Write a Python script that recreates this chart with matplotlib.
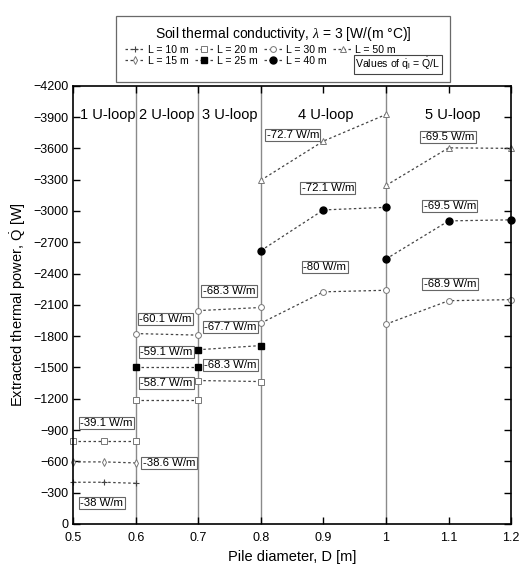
import matplotlib
matplotlib.use("Agg")
import matplotlib.pyplot as plt
from matplotlib.lines import Line2D

plt.rcParams['font.family'] = ['Liberation Sans', 'DejaVu Sans']
plt.rcParams['mathtext.fontset'] = 'custom'
plt.rcParams['mathtext.rm'] = 'Liberation Sans'
plt.rcParams['mathtext.it'] = 'Liberation Serif:italic'

# pile diameters per U-loop group
x_1u = [0.5, 0.55, 0.6]
x_2u = [0.6, 0.7]
x_3u = [0.7, 0.8]
x_4u = [0.8, 0.9, 1.0]
x_5u = [1.0, 1.1, 1.2]

# extracted power [W]
q_L10_1u = [-400, -400, -390]
q_L15_1u = [-595, -595, -585]
q_L20_1u = [-800, -800, -800]
q_L20_2u = [-1190, -1190]
q_L20_3u = [-1375, -1365]
q_L25_2u = [-1500, -1500]
q_L25_3u = [-1670, -1710]
q_L30_2u = [-1825, -1810]
q_L30_3u = [-2045, -2075]
q_L30_4u = [-1925, -2225, -2240]
q_L30_5u = [-1915, -2140, -2150]
q_L40_4u = [-2620, -3010, -3035]
q_L40_5u = [-2540, -2905, -2915]
q_L50_4u = [-3295, -3670, -3925]
q_L50_5u = [-3245, -3605, -3600]

# q = Q/L labels (text, x, y)
q_labels = ["-38 W/m", "-38.6 W/m", "-39.1 W/m", "-58.7 W/m", "-59.1 W/m", "-60.1 W/m",
            "-68.3 W/m", "-67.7 W/m", "-68.3 W/m", "-72.7 W/m", "-72.1 W/m", "-80 W/m",
            "-69.5 W/m", "-69.5 W/m", "-68.9 W/m"]
q_label_x = [0.546, 0.653, 0.553, 0.649, 0.649, 0.647,
             0.751, 0.751, 0.749, 0.851, 0.907, 0.902,
             1.099, 1.102, 1.102]
q_label_y = [-200, -585, -968, -1350, -1648, -1964,
             -1524, -1888, -2233, -3728, -3220, -2463,
             -3709, -3048, -2300]

loop_names = ["1 U-loop", "2 U-loop", "3 U-loop", "4 U-loop", "5 U-loop"]
loop_x = [0.556, 0.65, 0.75, 0.904, 1.107]
loop_sep = [0.6, 0.7, 0.8, 1.0]

fig = plt.figure(figsize=(5.19, 5.68), dpi=100)
ax = fig.add_axes([0.141, 0.0775, 0.844, 0.7715])

for xs in loop_sep:
    ax.axvline(xs, color='#8a8a8a', lw=1.0, zorder=1)

ls = dict(ls=(0, (2, 2)), color='#444444', lw=0.9, zorder=2)
gray = '#777777'
styles = {
    'L10': dict(marker='+', ms=5, mec='#444444', mew=0.8),
    'L15': dict(marker='d', ms=4, mfc='white', mec=gray, mew=0.7),
    'L20': dict(marker='s', ms=4.2, mfc='white', mec=gray, mew=0.7),
    'L25': dict(marker='s', ms=4.5, mfc='black', mec='black'),
    'L30': dict(marker='o', ms=4.2, mfc='white', mec=gray, mew=0.7),
    'L40': dict(marker='o', ms=5, mfc='black', mec='black'),
    'L50': dict(marker='^', ms=4.2, mfc='white', mec=gray, mew=0.7),
}

groups = [
    ('L10', x_1u, q_L10_1u), ('L15', x_1u, q_L15_1u),
    ('L20', x_1u, q_L20_1u), ('L20', x_2u, q_L20_2u), ('L20', x_3u, q_L20_3u),
    ('L25', x_2u, q_L25_2u), ('L25', x_3u, q_L25_3u),
    ('L30', x_2u, q_L30_2u), ('L30', x_3u, q_L30_3u), ('L30', x_4u, q_L30_4u), ('L30', x_5u, q_L30_5u),
    ('L40', x_4u, q_L40_4u), ('L40', x_5u, q_L40_5u),
    ('L50', x_4u, q_L50_4u), ('L50', x_5u, q_L50_5u),
]
for key, xs, ys in groups:
    ax.plot(xs, ys, clip_on=False, **ls, **styles[key])

# boxed q values
for t, x, y in zip(q_labels, q_label_x, q_label_y):
    ax.text(x, y, t, ha='center', va='center', fontsize=8.2, zorder=4,
            bbox=dict(boxstyle='square,pad=0.12', fc='white', ec='#666666', lw=0.8))

for t, x in zip(loop_names, loop_x):
    ax.text(x, -3920, t, ha='center', va='center', fontsize=10.5)

ax.set_xlim(0.5, 1.2)
ax.set_ylim(0, -4200)
ax.set_xticks([0.5, 0.6, 0.7, 0.8, 0.9, 1.0, 1.1, 1.2])
ax.set_xticklabels(["0.5", "0.6", "0.7", "0.8", "0.9", "1", "1.1", "1.2"])
ax.set_yticks(range(0, -4201, -300))
ax.tick_params(direction='in', top=True, right=True, labelsize=9, length=5, width=1.0)
ax.tick_params(axis='x', pad=6)
for s in ax.spines.values():
    s.set_linewidth(1.2)
ax.set_xlabel("Pile diameter, D [m]", fontsize=10.5)
ax.set_ylabel(r"Extracted thermal power, $\dot{\mathrm{Q}}$ [W]", fontsize=10.5)

# legend: 7 series + boxed note in the last slot
names = ['L10', 'L15', 'L20', 'L25', 'L30', 'L40', 'L50']
lab = ["L = 10 m", "L = 15 m", "L = 20 m", "L = 25 m", "L = 30 m", "L = 40 m", "L = 50 m"]
handles = [Line2D([], [], **ls, **styles[k]) for k in names]
handles.append(Line2D([], [], ls='none'))
lab.append(r"Values of $\dot{\mathrm{q}}_\mathrm{l}$ = $\dot{\mathrm{Q}}$/L")
leg = fig.legend(handles, lab, ncol=4, loc='upper center', bbox_to_anchor=(0.545, 0.982),
                 title=r"Soil thermal conductivity, $\lambda$ = 3 [W/(m °C)]",
                 title_fontsize=10, fontsize=7.6, frameon=True, fancybox=False,
                 edgecolor='#444444', handlelength=1.8, handletextpad=0.3,
                 columnspacing=0.6, labelspacing=0.15, borderpad=0.9)
leg.get_frame().set_linewidth(0.9)
leg.get_texts()[-1].set_bbox(dict(boxstyle='square,pad=0.15', fc='white', ec='#444444', lw=0.8))

fig.savefig("out.png", dpi=100)
